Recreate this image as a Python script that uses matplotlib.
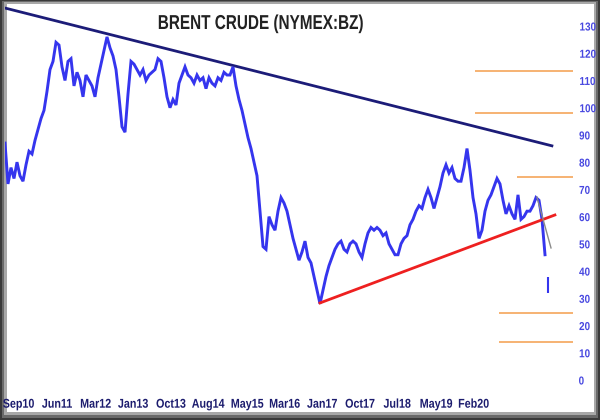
import numpy as np
import matplotlib
matplotlib.use("Agg")
import matplotlib.pyplot as plt
from matplotlib.patches import Rectangle
from matplotlib.patheffects import AbstractPathEffect
from matplotlib.transforms import Affine2D

# ---------------- data ----------------
price = [
    87, 72, 78, 74, 80, 75, 73, 79, 84, 83, 88, 92, 96, 99, 106, 114, 117, 124, 123, 115,
    110, 117, 118, 108, 113, 110, 104, 112, 110, 108, 104, 111, 116, 121, 126, 122, 119, 114, 104, 93,
    91, 105, 117, 116, 114, 112, 114, 110, 112, 113, 114, 118, 117, 111, 104, 100, 103, 101, 109, 112,
    115, 112, 111, 109, 112, 110, 111, 107, 111, 109, 108, 111, 110, 113, 112, 112, 115, 108, 103, 99,
    94, 89, 85, 80, 75, 62, 49, 48, 60, 57, 55, 62, 67, 65, 62, 57, 52, 48, 44, 47,
    51, 45, 43, 38, 33, 28, 33, 38, 42, 45, 48, 50, 51, 48, 47, 50, 51, 50, 47, 45,
    50, 54, 56, 55, 56, 55, 53, 54, 50, 48, 46, 46, 50, 52, 53, 57, 59, 62, 64, 63,
    67, 70, 67, 63, 67, 71, 76, 79, 76, 78, 74, 73, 73, 78, 85, 77, 67, 61, 52, 55,
    62, 66, 68, 71, 74, 72, 66, 61, 64, 61, 59, 68, 59, 60, 62, 62, 64, 67, 66, 59,
    46,
]
last_bar = [32, 38]            # final session range
last_bar_pos = 181

tick_labels = ["Sep10", "Jun11", "Mar12", "Jan13", "Oct13", "Aug14", "May15",
               "Mar16", "Jan17", "Oct17", "Jul18", "May19", "Feb20"]
tick_pos = [4.5, 17.3, 30.2, 42.7, 55.3, 67.7, 80.7, 93.2, 105.7, 118.3, 130.7, 143.7, 156.2]

y_ticks = list(range(0, 131, 10))

resist_x = [0, 182.3]
resist_y = [136.6, 86.0]
support_x = [105.0, 183.3]
support_y = [28.3, 60.6]
proj_x = [177.3, 182.0]
proj_y = [67.2, 48.5]

levels = [113.5, 98.2, 74.4, 24.7, 14.1]
level_start = [156.7, 156.7, 170.7, 164.7, 164.7]
level_end = 189.3


class HStretch(AbstractPathEffect):
    """Condense text horizontally about its own centre."""
    def __init__(self, sx):
        super().__init__()
        self.sx = sx

    def draw_path(self, renderer, gc, tpath, affine, rgbFace=None):
        ext = tpath.get_extents()
        cx = 0.5 * (ext.x0 + ext.x1)
        t = Affine2D().translate(-cx, 0).scale(self.sx, 1).translate(cx, 0)
        renderer.draw_path(gc, tpath, t + affine, rgbFace)


# ---------------- figure ----------------
W, H = 600, 420
fig = plt.figure(figsize=(6, 4.2), dpi=100, facecolor="#3a3a3a")


def px_rect(x0, y0, x1, y1, color, z):
    fig.add_artist(Rectangle((x0 / W, 1 - y1 / H), (x1 - x0) / W, (y1 - y0) / H,
                             transform=fig.transFigure, facecolor=color,
                             edgecolor="none", zorder=z))


px_rect(2, 1, 598, 418, "#6a6a6a", -10)
px_rect(4, 2, 596, 415, "#a8a8a8", -9)
px_rect(7, 4, 594, 412, "white", -8)

ax_left, ax_right, ax_top, ax_bot = 5, 574, 5, 398
ax = fig.add_axes([ax_left / W, 1 - ax_bot / H, (ax_right - ax_left) / W, (ax_bot - ax_top) / H])
ax.patch.set_alpha(0)
for s in ax.spines.values():
    s.set_visible(False)

ax.set_xlim(0, (ax_right - ax_left) / 3.0)
ax.set_ylim(-(ax_bot - 380) / 2.723, (380 - ax_top) / 2.723)

fam = ["Liberation Sans", "DejaVu Sans"]

x = np.arange(len(price))
ax.plot(x, price, color="#3535ee", lw=2.1, zorder=5, solid_joinstyle="miter")
ax.vlines(last_bar_pos, last_bar[0], last_bar[1], color="#3535ee", lw=1.5, zorder=5)

ax.plot(resist_x, resist_y, color="#1c1c78", lw=2.0, zorder=4)
ax.plot(support_x, support_y, color="#ee2020", lw=2.0, zorder=6)
ax.plot(proj_x, proj_y, color="#8a8a8a", lw=1.0, zorder=7)

for lv, st in zip(levels, level_start):
    ax.hlines(lv, st, level_end, color="#f5a65a", lw=1.2, zorder=3)

ax.yaxis.tick_right()
ax.set_yticks(y_ticks)
ax.set_yticklabels([str(v) for v in y_ticks], family=fam, fontsize=8.3,
                   fontweight="bold", color="#4848e0")
ax.tick_params(axis="y", length=0, pad=3)
for t in ax.get_yticklabels():
    t.set_path_effects([HStretch(0.86)])

ax.set_xticks(tick_pos)
ax.set_xticklabels(tick_labels, family=fam, fontsize=9.2, fontweight="bold", color="#1c1c6e")
ax.tick_params(axis="x", length=0, pad=0.5)
for t in ax.get_xticklabels():
    t.set_path_effects([HStretch(0.84)])

title = fig.text(261 / W, 1 - 23.5 / H, "BRENT CRUDE (NYMEX:BZ)", family=fam, fontsize=14.5,
                 fontweight="bold", color="#222222", ha="center", va="center")
title.set_path_effects([HStretch(0.76)])

fig.savefig("out.png", dpi=100, facecolor=fig.get_facecolor())
